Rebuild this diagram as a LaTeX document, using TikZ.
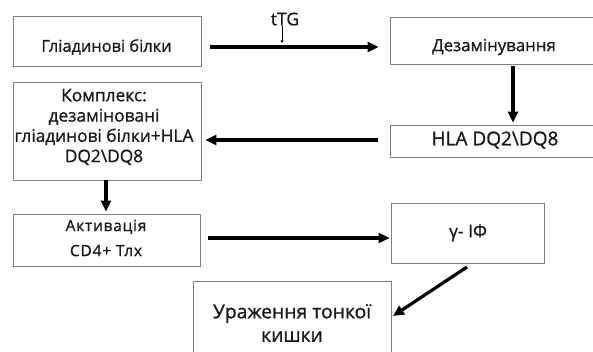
\documentclass[tikz,border=0pt]{standalone}
\usepackage{fontspec}
\setmainfont{Open Sans}[FakeBold=1]
\usetikzlibrary{arrows.meta}
\tikzset{
  box/.style={draw=black!50, line width=0.8pt, rectangle, inner sep=0pt},
  txt/.style={text=black!90, inner sep=0pt, align=center},
  arr/.style={line width=3.2pt, -{Triangle[length=11pt,width=10pt]}},
  thinarr/.style={line width=0.5pt, -{Stealth[length=3pt,width=3pt]}}
}
\begin{document}
\begin{tikzpicture}[x=1pt,y=-1pt]
\useasboundingbox (0,0) rectangle (593,351);
\clip (0,0) rectangle (593,351);
% boxes
\node[box, minimum width=188pt, minimum height=50pt] (b1) at (107,41) {};
\node[txt, font=\fontsize{16.4}{18}\selectfont] at (106.5,47) {Гліадинові білки};
\node[box, minimum width=240pt, minimum height=47pt] (b2) at (510,40.5) {};
\node[txt, font=\fontsize{16.8}{18}\selectfont] at (494,47) {Дезамінування};
\node[box, minimum width=188pt, minimum height=98pt] (b3) at (107,131) {};
\node[txt, font=\fontsize{17.3}{20.3}\selectfont] at (104,127) {Комплекс:\\дезаміновані\\гліадинові білки+HLA\\DQ2\textbackslash DQ8};
\node[box, minimum width=240pt, minimum height=32pt] (b4) at (510,141) {};
\node[txt, font=\fontsize{19}{22}\selectfont] at (495,140) {HLA DQ2\textbackslash DQ8};
\node[box, minimum width=187pt, minimum height=52pt] (b5) at (106.5,240) {};
\node[txt, font=\fontsize{15.5}{25}\selectfont\addfontfeature{LetterSpace=5}] at (106,238) {Активація\\CD4+ Тлх};
\node[box, minimum width=153pt, minimum height=60pt] (b6) at (467.5,233) {};
\node[txt, font=\fontsize{17.5}{20}\selectfont] at (468,233) {γ- IΦ};
\node[box, minimum width=198pt, minimum height=110pt] (b7) at (292,336) {};
\node[txt, font=\fontsize{19.3}{23.5}\selectfont] at (292,323) {Ураження тонкої\\кишки};
\node[txt, font=\fontsize{17.5}{20}\selectfont] (ttg) at (285,19) {tTG};
% helper coordinates
\coordinate (y1) at (0,47);
\coordinate (x2) at (513,0);
\coordinate (y3) at (0,140);
\coordinate (x4) at (106,0);
\coordinate (y5) at (0,238);
\coordinate (t1) at (0,43);
\coordinate (p6) at (467,267);
\coordinate (p7) at (393,316);
% arrows
\draw[arr, shorten <=9pt, shorten >=11pt] (b1.east |- y1) -- (b2.west |- y1);
\draw[thinarr] ([xshift=-3pt]ttg.south) -- ([xshift=-3pt]ttg.south |- t1);
\draw[arr, shorten <=2pt, shorten >=2pt] (b2.south -| x2) -- (b4.north -| x2);
\draw[arr, shorten <=12pt, shorten >=4pt] (b4.west |- y3) -- (b3.east |- y3);
\draw[arr, shorten <=0pt, shorten >=2pt] (b3.south -| x4) -- (b5.north -| x4);
\draw[arr, shorten <=8pt, shorten >=1pt] (b5.east |- y5) -- (b6.west |- y5);
\draw[arr] (p6) -- (p7);
\end{tikzpicture}
\end{document}
